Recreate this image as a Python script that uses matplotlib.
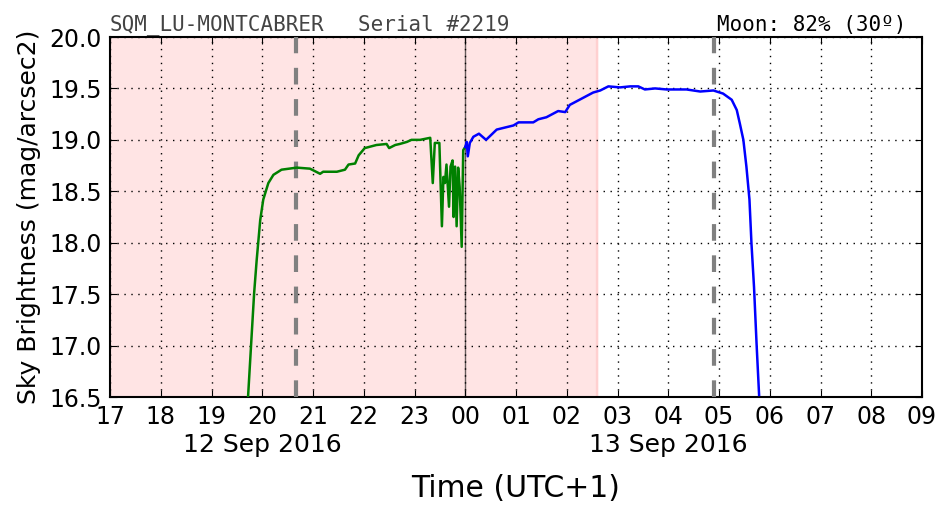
import matplotlib
matplotlib.use("Agg")
import matplotlib.pyplot as plt
import matplotlib.transforms as mtransforms

# hours since 00:00 of 12 Sep 2016 (local time, UTC+1)
evening_t = [19.72, 19.79, 19.84, 19.89, 19.96, 20.02, 20.12, 20.22, 20.38, 20.68,
             20.94, 21.14, 21.2, 21.47, 21.63, 21.7, 21.83, 21.9, 22.02, 22.25,
             22.45, 22.5, 22.62, 22.71, 22.85, 22.94, 23.11, 23.31, 23.36, 23.4,
             23.49, 23.54, 23.57, 23.6, 23.63, 23.68, 23.71, 23.75, 23.77, 23.8,
             23.83, 23.86, 23.89, 23.93, 23.96, 24.0]
evening_mag = [16.5, 17.09, 17.51, 17.83, 18.22, 18.42, 18.58, 18.66, 18.71, 18.73,
               18.72, 18.67, 18.69, 18.69, 18.71, 18.76, 18.77, 18.85, 18.92, 18.95,
               18.96, 18.92, 18.95, 18.96, 18.98, 19.0, 19.0, 19.02, 18.58, 18.97,
               18.97, 18.16, 18.64, 18.58, 18.76, 18.35, 18.74, 18.8, 18.25, 18.74,
               18.16, 18.73, 18.54, 17.96, 18.9, 18.93]

morning_t = [24.0, 24.03, 24.05, 24.09, 24.16, 24.27, 24.41, 24.62, 24.95, 25.05,
             25.34, 25.44, 25.6, 25.83, 25.97, 26.06, 26.29, 26.52, 26.66, 26.82,
             27.05, 27.25, 27.41, 27.54, 27.74, 27.97, 28.36, 28.63, 28.89, 29.08,
             29.25, 29.35, 29.41, 29.48, 29.54, 29.6, 29.64, 29.69, 29.74, 29.79]
morning_mag = [18.93, 18.98, 18.84, 18.97, 19.03, 19.06, 19.0, 19.10, 19.14, 19.17,
               19.17, 19.2, 19.22, 19.28, 19.27, 19.34, 19.40, 19.46, 19.48, 19.52,
               19.51, 19.52, 19.52, 19.49, 19.50, 19.49, 19.49, 19.47, 19.48, 19.45,
               19.39, 19.29, 19.16, 19.0, 18.74, 18.42, 17.99, 17.57, 17.02, 16.52]

hour_ticks = list(range(17, 34))
hour_labels = ["%02d" % (h % 24) for h in hour_ticks]
date_labels = ["12 Sep 2016", "13 Sep 2016"]
date_pos = [20.0, 28.0]

twilight_end = 26.6       # end of shaded (moon up) period
dashed_lines = [20.67, 28.9]
midnight = 24.0

fig = plt.figure(figsize=(9.52, 5.12), dpi=100)
ax = fig.add_axes([110 / 952, 1 - 397 / 512, 812 / 952, 360 / 512])

ax.axvspan(17, twilight_end, color="#ffe4e4", zorder=0)
ax.axvspan(twilight_end - 0.02, twilight_end, color="#ffd0d0", zorder=0)

for x in dashed_lines:
    ax.axvline(x, color="gray", lw=3, dashes=(4, 3.5), zorder=3)
ax.axvline(midnight, color="black", lw=1, alpha=0.6, zorder=3)

ax.plot(evening_t, evening_mag, color="green", lw=1.8, zorder=4)
ax.plot(morning_t, morning_mag, color="blue", lw=1.8, zorder=4)

ax.set_xlim(17, 33)
ax.set_ylim(16.5, 20.0)
ax.set_xticks(hour_ticks)
ax.set_xticklabels(hour_labels)
ax.set_yticks([16.5 + 0.5 * i for i in range(8)])
ax.set_yticklabels(["%.1f" % (16.5 + 0.5 * i) for i in range(8)])
ax.tick_params(direction="in", top=True, right=True, labelsize=17, length=5, pad=6)
ax.grid(True, color="black", linestyle=(0, (1, 4)), lw=1)
for s in ax.spines.values():
    s.set_linewidth(1.5)

ax.set_ylabel("Sky Brightness (mag/arcsec2)", fontsize=18, labelpad=6)
ax.set_xlabel("Time (UTC+1)", fontsize=21.5, labelpad=32)

trans = mtransforms.blended_transform_factory(ax.transData, fig.transFigure)
for d, x in zip(date_labels, date_pos):
    ax.text(x, 1 - 445 / 512, d, transform=trans, ha="center", va="center", fontsize=18)

fig.text(110 / 952, 1 - 25 / 512, "SQM_LU-MONTCABRER", family="DejaVu Sans Mono",
         fontsize=15, color="#444444", va="center")
fig.text(358 / 952, 1 - 25 / 512, "Serial #2219", family="DejaVu Sans Mono",
         fontsize=15, color="#444444", va="center")
fig.text(906 / 952, 1 - 25 / 512, "Moon: 82% (30º)", family="DejaVu Sans Mono",
         fontsize=15, color="black", va="center", ha="right")

fig.savefig("out.png", dpi=100)
